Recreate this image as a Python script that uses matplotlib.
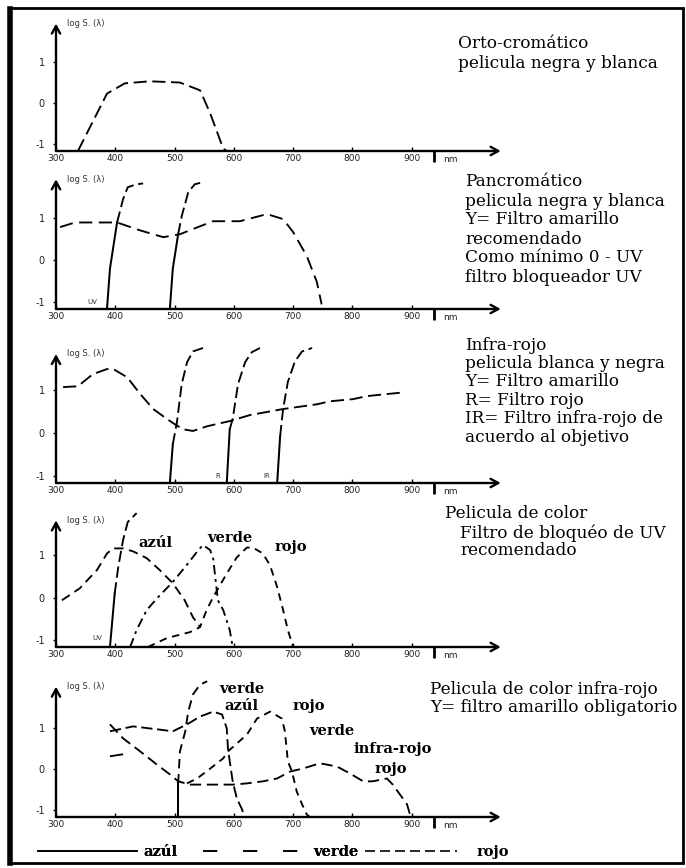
import matplotlib
matplotlib.use("Agg")
from matplotlib import pyplot as plt
from matplotlib.lines import Line2D
from matplotlib.patches import Rectangle

# Spectral sensitivity (log S) vs wavelength (nm), five film types

BASE = -1.16
TOP = 2.2
WL_TICKS = [300, 400, 500, 600, 700, 800, 900]
WL_LABELS = ['300', '400', '500', '600', '700', '800', '900']
S_TICKS = [-1, 0, 1]
S_LABELS = ['-1', '0', '1']

# panel 1: orto-cromatico
p1_wl = [337, 386, 416, 458, 509, 543, 560, 582, 588]
p1_s = [-1.16, 0.24, 0.49, 0.54, 0.51, 0.32, -0.24, -1.1, -1.16]

# panel 2: pancromatico + filtros UV, Y
p2_wl = [307, 332, 403, 440, 481, 509, 543, 565, 610, 656, 683, 700, 723, 740, 748]
p2_s = [0.79, 0.9, 0.9, 0.72, 0.55, 0.62, 0.81, 0.93, 0.93, 1.1, 0.98, 0.67, 0.1, -0.52, -1.05]
p2_uv_wl = [386, 391, 403, 413, 421, 436, 447]
p2_uv_s = [-1.16, -0.2, 0.9, 1.45, 1.74, 1.81, 1.83]
p2_y_wl = [492, 497, 506, 512, 523, 534, 548]
p2_y_s = [-1.16, -0.2, 0.62, 1.05, 1.62, 1.81, 1.86]

# panel 3: infra-rojo b/n + filtros Y, R, IR
p3_wl = [312, 337, 362, 386, 399, 420, 442, 464, 487, 500, 514, 531, 555, 593, 627,
         683, 740, 762, 801, 824, 888]
p3_s = [1.07, 1.09, 1.37, 1.49, 1.47, 1.3, 0.91, 0.56, 0.33, 0.21, 0.09, 0.05, 0.16,
        0.28, 0.42, 0.56, 0.67, 0.74, 0.79, 0.86, 0.95]
p3_y_wl = [492, 497, 504, 512, 521, 531, 548]
p3_y_s = [-1.16, -0.26, 0.26, 1.14, 1.65, 1.9, 1.98]
p3_r_wl = [588, 593, 598, 607, 619, 630, 644]
p3_r_s = [-1.16, 0.09, 0.33, 1.14, 1.65, 1.88, 1.98]
p3_ir_wl = [673, 678, 683, 691, 703, 715, 732]
p3_ir_s = [-1.16, -0.07, 0.56, 1.19, 1.67, 1.9, 1.98]

# panel 4: pelicula de color
p4_uv_wl = [391, 399, 405, 413, 421, 436]
p4_uv_s = [-1.16, 0.1, 0.72, 1.35, 1.78, 1.99]
p4_azul_wl = [310, 340, 369, 386, 396, 413, 430, 453, 475, 497, 517, 531, 543]
p4_azul_s = [-0.06, 0.22, 0.65, 1.04, 1.16, 1.16, 1.09, 0.93, 0.65, 0.34, -0.06, -0.46, -0.69]
p4_verde_wl = [425, 436, 453, 472, 497, 520, 540, 548, 560, 565, 573, 582, 593, 598]
p4_verde_s = [-1.16, -0.76, -0.29, 0.01, 0.37, 0.76, 1.12, 1.24, 1.12, 0.93, -0.06, -0.29, -0.76, -1.16]
p4_rojo_wl = [455, 487, 526, 543, 554, 565, 588, 605, 622, 632, 649, 661, 673, 683, 691, 700]
p4_rojo_s = [-1.16, -0.95, -0.81, -0.69, -0.29, 0.01, 0.57, 0.95, 1.18, 1.18, 1.04, 0.76,
             0.25, -0.29, -0.76, -1.16]

# panel 5: pelicula de color infra-rojo
p5_azul_wl = [391, 430, 470, 497, 521, 543, 565, 580, 588, 590, 593, 598, 605, 614, 617]
p5_azul_s = [0.93, 1.05, 0.98, 0.93, 1.10, 1.29, 1.41, 1.34, 1.0, 0.51, 0.2, -0.29, -0.71, -0.98, -1.16]
p5_ir_wl = [391, 413, 442, 470, 492, 506, 526, 543, 598, 622, 649, 673, 695, 716, 745,
            774, 796, 818, 834, 858, 868, 880, 892, 897]
p5_ir_s = [1.10, 0.76, 0.44, 0.12, -0.12, -0.29, -0.37, -0.37, -0.37, -0.34, -0.29, -0.22,
           -0.05, 0.02, 0.15, 0.07, -0.10, -0.29, -0.29, -0.22, -0.37, -0.61, -0.85, -1.1]
p5_rojo_wl = [521, 538, 560, 582, 590, 622, 639, 661, 681, 686, 691, 698, 706, 715, 723, 728]
p5_rojo_s = [-0.34, -0.22, 0.02, 0.27, 0.44, 0.85, 1.24, 1.41, 1.24, 0.93, 0.2, -0.05,
             -0.54, -0.85, -1.1, -1.16]
p5_y_wl = [506, 506, 509, 518, 523, 531, 543, 555]
p5_y_s = [-1.16, -0.34, 0.44, 0.93, 1.41, 1.83, 2.07, 2.15]
p5_verde_wl = [391, 413]
p5_verde_s = [0.32, 0.37]

# text on the right of each panel
desc_1 = ['Orto-cromático', 'pelicula negra y blanca']
desc_2 = ['Pancromático', 'pelicula negra y blanca', 'Y= Filtro amarillo', 'recomendado',
          'Como mínimo 0 - UV', 'filtro bloqueador UV']
desc_3 = ['Infra-rojo', 'pelicula blanca y negra', 'Y= Filtro amarillo', 'R= Filtro rojo',
          'IR= Filtro infra-rojo de', 'acuerdo al objetivo']
desc_4 = ['Pelicula de color', 'Filtro de bloquéo de UV', 'recomendado']
desc_5 = ['Pelicula de color infra-rojo', 'Y= filtro amarillo obligatorio']

legend_labels = ['azúl', 'verde', 'rojo']

W, H = 686, 868
SERIF = ['DejaVu Serif']


def fx(px):
    return px / W


def fy(py):
    return 1 - py / H


def make_panel(fig, base_px, unit_px, arrow_top):
    ax = fig.add_axes([fx(56), fy(base_px), 453.6 / W, (TOP - BASE) * unit_px / H])
    ax.set_xlim(300, 1065)
    ax.set_ylim(BASE, TOP)
    for sp in ax.spines.values():
        sp.set_visible(False)
    ax.patch.set_alpha(0)
    ax.set_xticks(WL_TICKS)
    ax.set_xticklabels(WL_LABELS, fontsize=6.5, color='#222')
    ax.set_yticks(S_TICKS)
    ax.set_yticklabels(S_LABELS, fontsize=7, color='#222')
    ax.tick_params(axis='x', direction='in', length=3, width=1, pad=2)
    ax.tick_params(axis='y', direction='out', length=2, width=1, pad=6)
    ax.set_xticks([938], minor=True)
    ax.tick_params(axis='x', which='minor', direction='out', length=8, width=2)
    ax.text(965, BASE - 0.1, 'nm', fontsize=6.5, va='top', ha='center', color='#222')
    arrow = dict(arrowstyle='->,head_length=0.55,head_width=0.3', lw=1.7, color='k',
                 shrinkA=0, shrinkB=0)
    ax.annotate('', xy=(1050, BASE), xytext=(300, BASE), arrowprops=arrow,
                annotation_clip=False)
    ax.annotate('', xy=(300, arrow_top), xytext=(300, BASE), arrowprops=arrow,
                annotation_clip=False)
    ax.text(318, arrow_top, 'log S. (λ)', fontsize=6, va='center', ha='left', color='#333')
    return ax


def curve(ax, wl, s, dash=(6, 2.5)):
    ax.plot(wl, s, color='k', lw=1.35, linestyle=(0, dash), clip_on=False)


def filt(ax, wl, s, n_solid=2, dash=(6, 2.5)):
    ax.plot(wl[:n_solid], s[:n_solid], color='k', lw=1.45, clip_on=False)
    ax.plot(wl[n_solid - 1:], s[n_solid - 1:], color='k', lw=1.35,
            linestyle=(0, dash), clip_on=False)


def desc(fig, x, y0, lines, step, size=12.2, weight='normal'):
    for i, t in enumerate(lines):
        fig.text(fx(x), fy(y0 + i * step), t, fontsize=size, family=SERIF,
                 va='center', ha='left', weight=weight)


def legend_item(fig, handle, label, x_px, hlen, tpad):
    leg = fig.legend([handle], [label], loc='center left',
                     bbox_to_anchor=(fx(x_px), fy(852)), frameon=False,
                     borderpad=0, borderaxespad=0, handlelength=hlen,
                     handletextpad=tpad, prop=dict(family=SERIF, size=10.5, weight='bold'))
    return leg


fig = plt.figure(figsize=(W / 100, H / 100), dpi=100)

# outer frame
fig.add_artist(Rectangle((fx(10), fy(863)), fx(673), 855 / H, transform=fig.transFigure,
                         fill=False, lw=2, ec='k'))
fig.add_artist(Line2D([fx(10), fx(10)], [fy(863), fy(9)], transform=fig.transFigure,
                      lw=4, color='k'))

# panel 1
ax1 = make_panel(fig, 151, 41, 1.95)
curve(ax1, p1_wl, p1_s, (7, 3))
desc(fig, 458, 43, desc_1, 20)

# panel 2
ax2 = make_panel(fig, 309, 42, 1.93)
curve(ax2, p2_wl, p2_s, (7, 3.5))
filt(ax2, p2_uv_wl, p2_uv_s, 3)
filt(ax2, p2_y_wl, p2_y_s, 3)
ax2.text(361, -1.0, 'UV', fontsize=5, ha='center', va='center', color='#333')
desc(fig, 465, 182, desc_2, 19)

# panel 3
ax3 = make_panel(fig, 483, 43, 1.84)
curve(ax3, p3_wl, p3_s, (7, 3))
filt(ax3, p3_y_wl, p3_y_s, 2)
filt(ax3, p3_r_wl, p3_r_s, 2)
filt(ax3, p3_ir_wl, p3_ir_s, 2)
ax3.text(573, -1.0, 'R', fontsize=5, ha='center', va='center', color='#333')
ax3.text(656, -1.0, 'IR', fontsize=5, ha='center', va='center', color='#333')
desc(fig, 465, 345, desc_3, 18.4)

# panel 4
ax4 = make_panel(fig, 647, 42.5, 1.82)
filt(ax4, p4_uv_wl, p4_uv_s, 2)
curve(ax4, p4_azul_wl, p4_azul_s, (5, 3))
curve(ax4, p4_verde_wl, p4_verde_s, (5, 2.5, 1.5, 2.5))
curve(ax4, p4_rojo_wl, p4_rojo_s, (4, 3))
ax4.text(369, -0.95, 'UV', fontsize=5, ha='center', va='center', color='#333')
lab = dict(fontsize=10.5, family=SERIF, weight='bold', ha='center', va='center')
ax4.text(467, 1.28, 'azúl', **lab)
ax4.text(593, 1.4, 'verde', **lab)
ax4.text(696, 1.19, 'rojo', **lab)
desc(fig, 445, 513, desc_4[:1], 20)
desc(fig, 460, 533, desc_4[1:], 17.5)

# panel 5
ax5 = make_panel(fig, 817, 41, 2.02)
curve(ax5, p5_azul_wl, p5_azul_s, (6, 2.5))
curve(ax5, p5_ir_wl, p5_ir_s, (6, 3))
curve(ax5, p5_rojo_wl, p5_rojo_s, (4, 3))
filt(ax5, p5_y_wl, p5_y_s, 2, (5, 3))
curve(ax5, p5_verde_wl, p5_verde_s, (8, 2))
ax5.text(614, 1.95, 'verde', **lab)
ax5.text(612, 1.54, 'azúl', **lab)
ax5.text(727, 1.54, 'rojo', **lab)
ax5.text(765, 0.93, 'verde', **lab)
ax5.text(868, 0.49, 'infra-rojo', **lab)
ax5.text(865, 0.02, 'rojo', **lab)
desc(fig, 430, 690, desc_5, 18)

# legend row, one entry at a time so the spacing follows the original
leg_a = legend_item(fig, Line2D([], [], color='k', lw=1.2), legend_labels[0], 38, 6.8, 0.41)
leg_v = legend_item(fig, Line2D([], [], color='k', lw=1.2, linestyle=(0, (8.5, 15.5))),
                    legend_labels[1], 203, 6.65, 0.9)
leg_r = legend_item(fig, Line2D([], [], color='k', lw=1.2, linestyle=(0, (6, 3))),
                    legend_labels[2], 365, 6.3, 1.35)
fig.add_artist(leg_a)
fig.add_artist(leg_v)

fig.savefig('out.png', dpi=100)
